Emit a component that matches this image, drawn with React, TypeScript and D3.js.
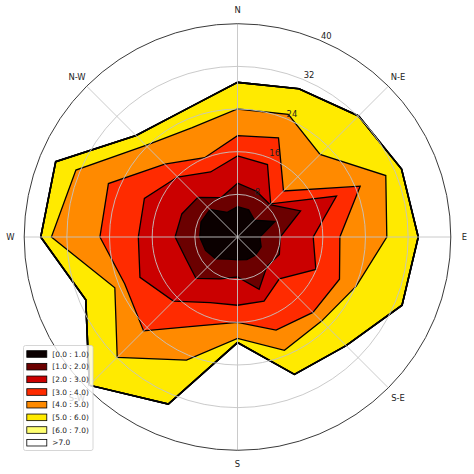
import React from 'react';
import * as d3 from 'd3';

const directions = ['N', 'NNE', 'NE', 'ENE', 'E', 'ESE', 'SE', 'SSE', 'S', 'SSW', 'SW', 'WSW', 'W', 'WNW', 'NW', 'NNW'];
const binLabels = ['[0.0 : 1.0)', '[1.0 : 2.0)', '[2.0 : 3.0)', '[3.0 : 4.0)', '[4.0 : 5.0)', '[5.0 : 6.0)', '[6.0 : 7.0)', '>7.0'];
const binColors = ['#0b0000', '#6b0000', '#cb0000', '#ff2b00', '#ff8a00', '#ffea00', '#ffff70', '#ffffff'];

// frequency (%) per direction for each speed bin
const bin0 = [5.7, 5.5, 4.5, 7.6, 4.2, 4.8, 4.8, 4.6, 4.3, 4.5, 5.8, 6.5, 7.1, 7.4, 7.3, 5.0];
const bin1 = [4.4, 3.8, 4.1, 5.2, 3.8, 3.7, 3.0, 6.0, 3.2, 4.0, 5.2, 4.0, 4.6, 3.9, 3.2, 3.0];
const bin2 = [5.1, 5.4, 0.2, 7.3, 6.2, 7.4, 3.3, 2.4, 5.3, 4.8, 6.0, 9.3, 6.9, 7.6, 5.4, 5.2];
const bin3 = [3.8, 5.4, 3.4, 4.8, 5.0, 4.8, 8.9, 5.9, 3.2, 4.7, 7.9, 3.1, 7.2, 7.3, 3.4, 2.9];
const bin4 = [5.0, 4.8, 9.7, 5.2, 8.8, 3.4, 2.3, 4.1, 3.0, 7.0, 7.0, 2.0, 9.1, 6.6, 5.0, 6.1];
const bin5 = [5.0, 5.2, 10.2, 3.2, 5.9, 9.3, 6.5, 4.9, 0.8, 8.9, 7.4, 5.9, 2.0, 4.1, 2.6, 3.6];
const bin6 = [0, 0, 0, 0, 0, 0, 0, 0, 0, 0, 0, 0, 0, 0, 0, 0];
const bin7 = [0, 0, 0, 0, 0, 0, 0, 0, 0, 0, 0, 0, 0, 0, 0, 0];
const bins = [bin0, bin1, bin2, bin3, bin4, bin5, bin6, bin7];

const radialTicks = [8, 16, 24, 32, 40];
const compassLabels = ['N', 'N-E', 'E', 'S-E', 'S', 'S-W', 'W', 'N-W'];

const W = 474;
const H = 474;
const cx = 237.5;
const cy = 237;
const R = 213.3;
const FONT = 'DejaVu Sans, sans-serif';

export default function App() {
  const r = d3.scaleLinear().domain([0, 40]).range([0, R]);
  const angle = d3
    .scaleLinear()
    .domain([0, directions.length])
    .range([0, 2 * Math.PI]);

  // cumulative stacks
  const cumul: number[][] = [];
  bins.forEach((b, i) => {
    cumul.push(b.map((v, j) => v + (i > 0 ? cumul[i - 1][j] : 0)));
  });

  const radial = d3
    .lineRadial<number>()
    .angle((_, j) => angle(j))
    .radius((v) => r(v))
    .curve(d3.curveLinearClosed);

  const order = d3.range(bins.length).reverse();
  const toXY = (a: number, rr: number) => [rr * Math.sin(a), -rr * Math.cos(a)];

  return (
    <svg width={W} height={H} style={{ position: 'absolute', left: 0, top: 0 }}>
      <rect width={W} height={H} fill="#ffffff" />
      <g transform={`translate(${cx},${cy})`}>
        {order.map((i) => (
          <path key={'f' + i} d={radial(cumul[i]) || ''} fill={binColors[i]} stroke="none" />
        ))}
        {order.map((i) => (
          <path
            key={'l' + i}
            d={radial(cumul[i]) || ''}
            fill="none"
            stroke="#000"
            strokeWidth={i >= 5 ? 1.6 : 1.3}
            strokeLinejoin="miter"
          />
        ))}
        {radialTicks.slice(0, -1).map((t) => (
          <circle key={'c' + t} r={r(t)} fill="none" stroke="#c4c4c4" strokeWidth={0.9} />
        ))}
        {compassLabels.map((_, k) => {
          const [x, y] = toXY((k * Math.PI) / 4, R);
          return <line key={'s' + k} x1={0} y1={0} x2={x} y2={y} stroke="#c4c4c4" strokeWidth={0.9} />;
        })}
        <circle r={R} fill="none" stroke="#3a3a3a" strokeWidth={1} />
        {radialTicks.map((t) => {
          const [x, y] = toXY((23.8 * Math.PI) / 180, r(t) + 6.8);
          return (
            <text key={'t' + t} x={x} y={y} fontFamily={FONT} fontSize={8.4} fill="#222" textAnchor="middle" dominantBaseline="central">
              {t}
            </text>
          );
        })}
        {compassLabels.map((lab, k) => {
          const [x, y] = toXY((k * Math.PI) / 4, 227);
          return (
            <text key={'d' + k} x={x} y={y} fontFamily={FONT} fontSize={8.4} fill="#222" textAnchor="middle" dominantBaseline="central">
              {lab}
            </text>
          );
        })}
      </g>
      <g>
        <rect x={23.5} y={345.5} width={69.5} height={105} rx={2} fill="#fff" fillOpacity={0.8} stroke="#cccccc" strokeWidth={0.8} />
        {binLabels.map((lab, i) => {
          const y = 354 + i * 12.67;
          return (
            <g key={'lg' + i}>
              <rect x={26.8} y={y - 3.3} width={20} height={6.6} fill={binColors[i]} stroke="#000" strokeWidth={0.8} />
              <text x={52.3} y={y} fontFamily={FONT} fontSize={7.4} fill="#222" dominantBaseline="central">
                {lab}
              </text>
            </g>
          );
        })}
      </g>
    </svg>
  );
}
